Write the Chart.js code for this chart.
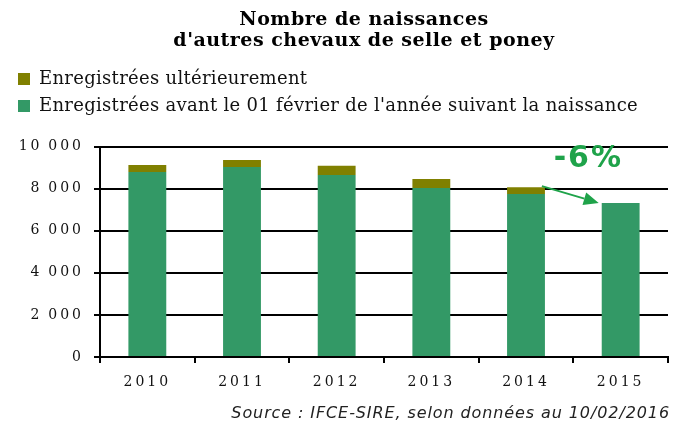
<!DOCTYPE html>
<html>
<head>
<meta charset="utf-8">
<script src="https://cdn.jsdelivr.net/npm/chart.js@4/dist/chart.umd.min.js"></script>
<style>
  html, body { margin: 0; padding: 0; background: #fff; }
  #wrap { width: 680px; height: 425px; }
</style>
</head>
<body>
<div id="wrap"><canvas id="c" width="680" height="425"></canvas></div>
<script>
// ---- data ----
const years = ['2010', '2011', '2012', '2013', '2014', '2015'];
const avantFevrier = [8790, 9030, 8650, 8030, 7740, 7320];
const ulterieurement = [330, 330, 430, 430, 330, null];
const yTicks = [0, 2000, 4000, 6000, 8000, 10000];
const titleLines = ['Nombre de naissances', "d'autres chevaux de selle et poney"];
const labelAvant = "Enregistrées avant le 01 février de l'année suivant la naissance";
const labelUlt = 'Enregistrées ultérieurement';
const sourceText = 'Source : IFCE-SIRE, selon données au 10/02/2016';
const annotationText = '-6%';

const GREEN = '#339966';
const OLIVE = '#808000';
const ANNOT = '#1fa34a';

Chart.defaults.font.family = "'DejaVu Serif', serif";
Chart.defaults.color = '#000';

const fmt = v => String(v).replace(/\B(?=(\d{3})+(?!\d))/g, '\u2009');

const decorPlugin = {
  id: 'decor',
  beforeDraw(chart) {
    chart.ctx.letterSpacing = '0.3px';
  },
  afterDatasetsDraw(chart) {
    chart.ctx.letterSpacing = '3px';
  },
  afterDraw(chart) {
    const ctx = chart.ctx;
    ctx.save();
    // title
    ctx.letterSpacing = '0.5px';
    ctx.fillStyle = '#000';
    ctx.textAlign = 'center';
    ctx.textBaseline = 'middle';
    ctx.font = "bold 19px 'DejaVu Serif', serif";
    ctx.fillText(titleLines[0], 364, 20);
    ctx.fillText(titleLines[1], 364, 41);
    // source
    ctx.letterSpacing = '0.9px';
    ctx.font = "italic 16px 'DejaVu Sans', sans-serif";
    ctx.textAlign = 'right';
    ctx.fillStyle = '#222';
    ctx.fillText(sourceText, 670, 414);
    // annotation
    ctx.letterSpacing = '0px';
    const xs = chart.scales.x, ys = chart.scales.y;
    const meta = chart.getDatasetMeta(0);
    const barW = meta.data[0].width;
    const i1 = 4, i2 = 5;
    const x1 = xs.getPixelForValue(i1) + barW / 2 - 3;
    const y1 = ys.getPixelForValue(avantFevrier[i1] + ulterieurement[i1]) - 1;
    const x2 = xs.getPixelForValue(i2) - barW / 2 - 3;
    const y2 = ys.getPixelForValue(avantFevrier[i2]);
    const ang = Math.atan2(y2 - y1, x2 - x1);
    const head = 15, hw = 6.5;
    const bx = x2 - head * Math.cos(ang), by = y2 - head * Math.sin(ang);
    ctx.strokeStyle = ANNOT;
    ctx.fillStyle = ANNOT;
    ctx.lineWidth = 2;
    ctx.beginPath();
    ctx.moveTo(x1, y1);
    ctx.lineTo(bx, by);
    ctx.stroke();
    ctx.beginPath();
    ctx.moveTo(x2, y2);
    ctx.lineTo(bx + hw * Math.sin(ang), by - hw * Math.cos(ang));
    ctx.lineTo(bx - hw * Math.sin(ang), by + hw * Math.cos(ang));
    ctx.closePath();
    ctx.fill();
    ctx.font = "bold 30px 'DejaVu Sans', sans-serif";
    ctx.letterSpacing = '2px';
    ctx.textAlign = 'center';
    ctx.textBaseline = 'middle';
    ctx.fillText(annotationText, (xs.getPixelForValue(i1) + xs.getPixelForValue(i2)) / 2 + 15, ys.getPixelForValue(9400));
    ctx.restore();
  }
};

new Chart(document.getElementById('c'), {
  type: 'bar',
  data: {
    labels: years,
    datasets: [
      { label: labelAvant, data: avantFevrier, backgroundColor: GREEN, borderWidth: 0 },
      { label: labelUlt, data: ulterieurement, backgroundColor: OLIVE, borderWidth: 0 }
    ]
  },
  options: {
    responsive: false,
    animation: false,
    layout: { padding: { top: 61, left: 9, right: 12, bottom: 0 } },
    datasets: { bar: { barPercentage: 0.4, categoryPercentage: 1 } },
    plugins: {
      title: { display: false },
      subtitle: {
        display: true,
        text: '',
        weight: 500,
        font: { size: 1, lineHeight: 1.5 },
        padding: { top: 20, bottom: 0 }
      },
      tooltip: { enabled: false },
      legend: {
        position: 'top',
        align: 'start',
        reverse: true,
        labels: {
          boxWidth: 12,
          boxHeight: 12,
          padding: 9,
          color: '#111',
          font: { size: 18, family: "'DejaVu Serif', serif" }
        }
      }
    },
    scales: {
      x: {
        stacked: true,
        afterFit: s => { s.height = 68; },
        grid: { display: true, drawOnChartArea: false, drawTicks: true, tickLength: 6, color: '#000', lineWidth: 2, z: 0 },
        border: { display: true, color: '#000', width: 2 },
        ticks: { padding: 11, z: 1, font: { size: 14 }, color: '#111', maxRotation: 0, autoSkip: false }
      },
      y: {
        stacked: true,
        min: 0,
        max: 10000,
        afterFit: s => { s.width = 91; },
        afterBuildTicks: s => { s.ticks = yTicks.map(v => ({ value: v })); },
        grid: { color: '#000', lineWidth: 2, tickLength: 6, z: 0 },
        border: { display: true, color: '#000', width: 2 },
        ticks: { padding: 10, z: 1, font: { size: 14 }, color: '#111', callback: v => fmt(v) }
      }
    }
  },
  plugins: [decorPlugin]
});
</script>
</body>
</html>
